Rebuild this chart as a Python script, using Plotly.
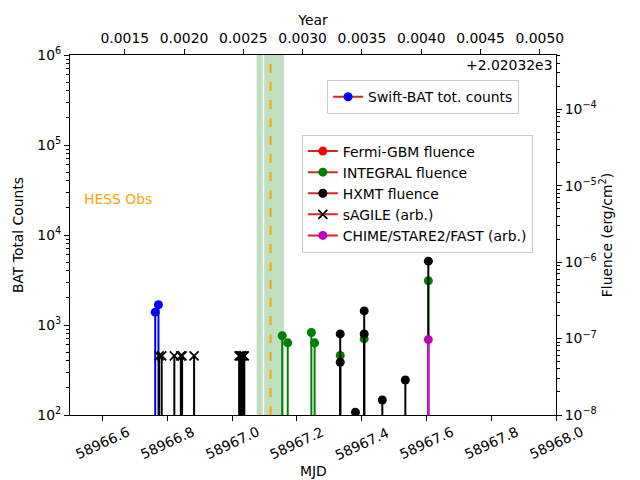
import plotly.graph_objects as go

# ---------------- data ----------------
bat_mjd = [58966.763, 58966.773]
bat_counts = [1390, 1680]

fermi_mjd = []
fermi_fluence = []

integral_mjd = [58967.155, 58967.172, 58967.245, 58967.255, 58967.334, 58967.408, 58967.606]
integral_fluence = [1.09e-7, 8.8e-8, 1.2e-7, 8.8e-8, 6.0e-8, 9.9e-8, 5.7e-7]

hxmt_mjd = [58967.334, 58967.334, 58967.381, 58967.408, 58967.408, 58967.464, 58967.535, 58967.606]
hxmt_fluence = [1.15e-7, 4.9e-8, 1.09e-8, 2.3e-7, 1.15e-7, 1.57e-8, 2.87e-8, 1.03e-6]

sagile_mjd = [58966.775, 58966.783, 58966.822, 58966.842, 58966.846, 58966.883,
              58967.022, 58967.026, 58967.030, 58967.034, 58967.038]
sagile_val = [455] * len(sagile_mjd)

chime_mjd = [58967.606]
chime_fluence = [9.7e-8]

hess_span = [58967.076, 58967.160]
hess_gap = 58967.097
frb_mjd = 58967.119

x_range = [58966.5, 58968.0]
x_ticks = [58966.6, 58966.8, 58967.0, 58967.2, 58967.4, 58967.6, 58967.8, 58968.0]
year_ticks = [0.0015, 0.0020, 0.0025, 0.0030, 0.0035, 0.0040, 0.0045, 0.0050]
left_exps = [2, 3, 4, 5, 6]
right_exps = [-8, -7, -6, -5, -4]
year_offset = 2020.32
mjd_2020 = 58849.0
days_2020 = 366.0

FONT = "DejaVu Sans"
FS = 13.9


def stems(xs, ys, base):
    sx, sy = [], []
    for x, y in zip(xs, ys):
        sx += [x, x, None]
        sy += [base, y, None]
    return sx, sy


fig = go.Figure()

# HESS observation span
fig.add_shape(type="rect", xref="x", yref="paper", x0=hess_span[0], x1=hess_span[1],
              y0=0, y1=1, fillcolor="rgba(0,128,0,0.25)", line_width=0, layer="below")
fig.add_shape(type="line", xref="x", yref="paper", x0=hess_gap, x1=hess_gap, y0=0, y1=1,
              line=dict(color="white", width=1.5), layer="below")
fig.add_shape(type="line", xref="x", yref="paper", x0=frb_mjd, x1=frb_mjd, y0=0, y1=1,
              line=dict(color="orange", width=2, dash="dash"))


def add_series(xs, ys, yaxis, base, stem_color, marker_color, symbol="circle", msize=9):
    sx, sy = stems(xs, ys, base)
    fig.add_trace(go.Scatter(x=sx, y=sy, mode="lines", yaxis=yaxis, showlegend=False,
                             line=dict(color=stem_color, width=2), hoverinfo="skip"))
    if symbol == "circle":
        mk = dict(color=marker_color, size=msize, symbol="circle", line=dict(width=0))
    else:
        mk = dict(color=marker_color, size=msize, symbol="x-thin",
                  line=dict(color=marker_color, width=1.8))
    fig.add_trace(go.Scatter(x=xs, y=ys, mode="markers", yaxis=yaxis, showlegend=False,
                             marker=mk))


add_series(bat_mjd, bat_counts, "y", 1, "blue", "blue")
add_series(integral_mjd, integral_fluence, "y2", 1e-12, "green", "green")
add_series(hxmt_mjd, hxmt_fluence, "y2", 1e-12, "black", "black")
add_series(sagile_mjd, sagile_val, "y", 1, "black", "black", symbol="x", msize=9)
add_series(chime_mjd, chime_fluence, "y2", 1e-12, "#ff00ff", "#bf00bf")


def legend_entry(name, color, legend, symbol="circle"):
    mk = dict(color=color, size=9, symbol=symbol)
    if symbol != "circle":
        mk = dict(color=color, size=9, symbol="x-thin", line=dict(color=color, width=1.8))
    fig.add_trace(go.Scatter(x=[None], y=[None], mode="lines+markers", name=name,
                             legend=legend, line=dict(color="#d62728", width=2), marker=mk))


legend_entry("Swift-BAT tot. counts", "blue", "legend")
legend_entry("Fermi-GBM fluence", "red", "legend2")
legend_entry("INTEGRAL fluence", "green", "legend2")
legend_entry("HXMT fluence", "black", "legend2")
legend_entry("sAGILE (arb.)", "black", "legend2", symbol="x")
legend_entry("CHIME/STARE2/FAST (arb.)", "#bf00bf", "legend2")

year_range = [(x_range[0] - mjd_2020) / days_2020 + 2020 - year_offset,
              (x_range[1] - mjd_2020) / days_2020 + 2020 - year_offset]
fig.add_trace(go.Scatter(x=year_range, y=[1e3, 1e3], xaxis="x2", mode="lines",
                         line=dict(width=0), showlegend=False, hoverinfo="skip"))

left_minor = [m * 10 ** e for e in range(2, 6) for m in range(2, 10)]
right_minor = [m * 10 ** e for e in range(-8, -3) for m in range(2, 10)]

axis_common = dict(showline=True, linecolor="black", linewidth=1, ticks="outside",
                   tickcolor="black", ticklen=5, tickwidth=1, showgrid=False, zeroline=False,
                   automargin=False,
                   tickfont=dict(family=FONT, size=FS, color="black"))

fig.update_layout(
    width=640, height=480,
    margin=dict(l=70, r=84, t=55, b=65),
    plot_bgcolor="white", paper_bgcolor="white",
    font=dict(family=FONT, size=FS, color="black"),
    xaxis=dict(range=x_range, tickvals=x_ticks, ticktext=[""] * len(x_ticks),
               **axis_common),
    xaxis2=dict(range=year_range, overlaying="x", side="top", anchor="y",
                tickvals=year_ticks, ticktext=[f"{v:.4f}" for v in year_ticks],
                title=dict(text="Year", font=dict(family=FONT, size=FS), standoff=1),
                **axis_common),
    yaxis=dict(type="log", range=[2, 6], tickvals=[10 ** e for e in left_exps],
               ticktext=[f"10<sup>{e}</sup>" for e in left_exps],
               title=dict(text="BAT Total Counts", font=dict(family=FONT, size=FS), standoff=10),
               minor=dict(tickvals=left_minor, ticks="outside", ticklen=3, tickcolor="black"),
               **axis_common),
    yaxis2=dict(type="log", range=[-8, -3.29], overlaying="y", side="right", anchor="x",
                tickvals=[10.0 ** e for e in right_exps],
                ticktext=[f"10<sup>\u2212{-e}</sup>" for e in right_exps],
                title=dict(text="Fluence (erg/cm<sup>2</sup>)", font=dict(family=FONT, size=FS),
                           standoff=6),
                minor=dict(tickvals=right_minor, ticks="outside", ticklen=3, tickcolor="black"),
                **axis_common),
    legend=dict(x=0.529, y=0.93, xanchor="left", yanchor="top", bgcolor="rgba(255,255,255,0.8)",
                bordercolor="#cccccc", borderwidth=1, itemwidth=30,
                font=dict(family=FONT, size=FS)),
    legend2=dict(x=0.477, y=0.779, xanchor="left", yanchor="top",
                 bgcolor="rgba(255,255,255,0.8)", bordercolor="#cccccc", borderwidth=1,
                 itemwidth=30, font=dict(family=FONT, size=FS)),
)

for v in x_ticks:
    fig.add_annotation(x=v, xref="x", y=-0.018, yref="paper", text=f"{v:.1f}",
                       showarrow=False, textangle=-25, xanchor="center", yanchor="top",
                       font=dict(family=FONT, size=FS, color="black"))
fig.add_annotation(x=0.5, xref="paper", y=-0.127, yref="paper", text="MJD", showarrow=False,
                   xanchor="center", yanchor="top", font=dict(family=FONT, size=FS))

fig.add_annotation(x=0.024, xref="paper", y=0.60, yref="paper", text="HESS Obs", showarrow=False,
                   xanchor="left", yanchor="middle", font=dict(family=FONT, size=FS, color="orange"))
fig.add_annotation(x=0.995, xref="paper", y=1.0, yref="paper", text="+2.02032e3",
                   showarrow=False, xanchor="right", yanchor="top",
                   font=dict(family=FONT, size=FS, color="black"))

fig.write_html("out.html", config={"displayModeBar": False},
               post_script="document.body.style.margin='0';document.body.style.padding='0';")
